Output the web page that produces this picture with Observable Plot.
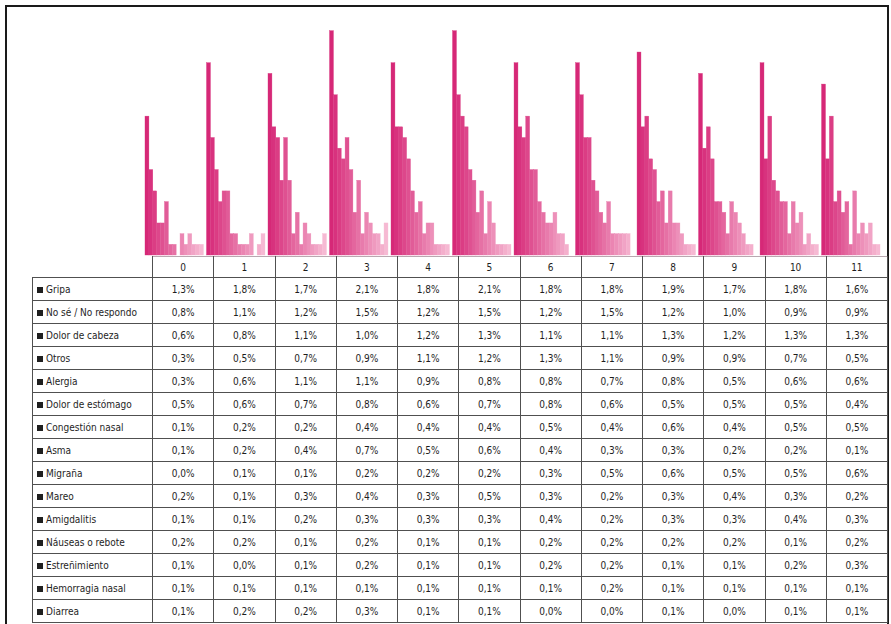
<!DOCTYPE html>
<html><head><meta charset="utf-8">
<script src="https://cdn.jsdelivr.net/npm/d3@7"></script>
<script src="https://cdn.jsdelivr.net/npm/@observablehq/plot@0.6"></script>
<style>
body{margin:0;background:#fff;width:891px;height:624px;overflow:hidden;position:relative;font-family:"Liberation Sans Narrow","DejaVu Sans Condensed","Liberation Sans",sans-serif;}
#frame{position:absolute;left:5px;top:5px;width:880px;height:660px;border-left:2px solid #1a1a1a;border-top:2px solid #1a1a1a;border-right:2px solid #1a1a1a;}
#chart{position:absolute;left:0;top:0;}
#tbl{position:absolute;left:32px;top:256px;border-collapse:collapse;table-layout:fixed;}
#tbl td{border:1px solid #505050;padding:0;font-size:10px;text-align:center;color:#1e1e1e;white-space:nowrap;overflow:hidden;}
#tbl tr{height:23px;}
#tbl tr.head{height:21px;}
#tbl td.lab{text-align:left;padding-left:4px;}
#tbl tr.head td{border-top:1px solid #b8a8b0;}
#tbl tr.head td.lab{border-top:none;border-left:none;}
.key{display:inline-block;width:6px;height:6px;background:#1f1f1f;margin-right:3px;vertical-align:0px;}
</style></head>
<body>
<div id="frame"></div>
<div id="chart"></div>
<table id="tbl"></table>
<script>
const groups = ["0","1","2","3","4","5","6","7","8","9","10","11"];
const series = ["Gripa","No sé / No respondo","Dolor de cabeza","Otros","Alergia","Dolor de estómago","Congestión nasal","Asma","Migraña","Mareo","Amigdalitis","Náuseas o rebote","Estreñimiento","Hemorragia nasal","Diarrea"];

const gripa          = [1.3,1.8,1.7,2.1,1.8,2.1,1.8,1.8,1.9,1.7,1.8,1.6];
const noSe           = [0.8,1.1,1.2,1.5,1.2,1.5,1.2,1.5,1.2,1.0,0.9,0.9];
const dolorCabeza    = [0.6,0.8,1.1,1.0,1.2,1.3,1.1,1.1,1.3,1.2,1.3,1.3];
const otros          = [0.3,0.5,0.7,0.9,1.1,1.2,1.3,1.1,0.9,0.9,0.7,0.5];
const alergia        = [0.3,0.6,1.1,1.1,0.9,0.8,0.8,0.7,0.8,0.5,0.6,0.6];
const dolorEstomago  = [0.5,0.6,0.7,0.8,0.6,0.7,0.8,0.6,0.5,0.5,0.5,0.4];
const congestion     = [0.1,0.2,0.2,0.4,0.4,0.4,0.5,0.4,0.6,0.4,0.5,0.5];
const asma           = [0.1,0.2,0.4,0.7,0.5,0.6,0.4,0.3,0.3,0.2,0.2,0.1];
const migrana        = [0.0,0.1,0.1,0.2,0.2,0.2,0.3,0.5,0.6,0.5,0.5,0.6];
const mareo          = [0.2,0.1,0.3,0.4,0.3,0.5,0.3,0.2,0.3,0.4,0.3,0.2];
const amigdalitis    = [0.1,0.1,0.2,0.3,0.3,0.3,0.4,0.2,0.3,0.3,0.4,0.3];
const nauseas        = [0.2,0.2,0.1,0.2,0.1,0.1,0.2,0.2,0.2,0.2,0.1,0.2];
const estrenimiento  = [0.1,0.0,0.1,0.2,0.1,0.1,0.2,0.2,0.1,0.1,0.2,0.3];
const hemorragia     = [0.1,0.1,0.1,0.1,0.1,0.1,0.1,0.2,0.1,0.1,0.1,0.1];
const diarrea        = [0.1,0.2,0.2,0.3,0.1,0.1,0.0,0.0,0.1,0.0,0.1,0.1];

const seriesValues = [gripa,noSe,dolorCabeza,otros,alergia,dolorEstomago,congestion,asma,migrana,mareo,amigdalitis,nauseas,estrenimiento,hemorragia,diarrea];

const data = series.flatMap((s,i) => groups.map((g,j) => ({series:s, group:g, value:seriesValues[i][j]})));

const colors = d3.quantize(d3.interpolateRgb("#d62877","#f6b9d3"), series.length);

const chart = Plot.plot({
  width: 891,
  height: 257,
  marginLeft: 145,
  marginRight: 11,
  marginTop: 20,
  marginBottom: 2,
  facet: {data, x: "group"},
  fx: {domain: groups, padding: 0.05, round: false, axis: null, label: null},
  x: {domain: series, padding: 0, round: false, axis: null},
  y: {domain: [0, 2.2], axis: null},
  color: {domain: series, range: colors},
  marks: [
    Plot.barY(data, {x: "series", y: "value", fill: "series", inset: 0, stroke: "series", strokeWidth: 0.4, strokeOpacity: 0.9})
  ]
});
document.getElementById("chart").appendChild(chart);

// data table
const fmt = v => v.toFixed(1).replace(".", ",") + "%";
const tbl = document.getElementById("tbl");
const colgroup = document.createElement("colgroup");
const c0 = document.createElement("col"); c0.style.width = "120px"; colgroup.appendChild(c0);
groups.forEach(() => { const c = document.createElement("col"); c.style.width = "61.25px"; colgroup.appendChild(c); });
tbl.appendChild(colgroup);
const head = document.createElement("tr"); head.className = "head";
const h0 = document.createElement("td"); h0.className = "lab"; head.appendChild(h0);
groups.forEach(g => { const td = document.createElement("td"); td.textContent = g; head.appendChild(td); });
tbl.appendChild(head);
series.forEach((s,i) => {
  const tr = document.createElement("tr");
  const l = document.createElement("td"); l.className = "lab";
  const k = document.createElement("span"); k.className = "key"; l.appendChild(k);
  l.appendChild(document.createTextNode(s));
  tr.appendChild(l);
  seriesValues[i].forEach(v => { const td = document.createElement("td"); td.textContent = fmt(v); tr.appendChild(td); });
  tbl.appendChild(tr);
});
</script>
</body></html>
